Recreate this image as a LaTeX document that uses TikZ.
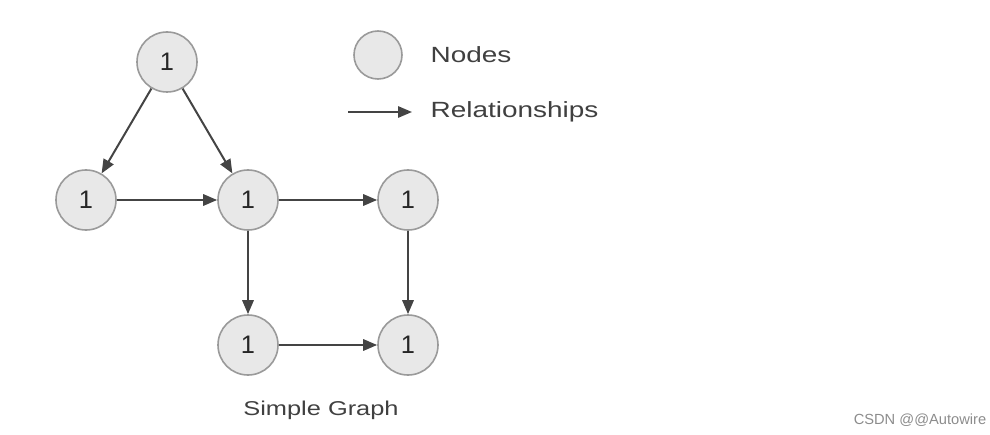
\documentclass[tikz,border=0pt]{standalone}
\usepackage{fontspec}
\setmainfont{Liberation Sans}
\newfontfamily\widefont[FakeStretch=1.27]{Liberation Sans}
\usepackage{tikz}
\definecolor{node-fill}{HTML}{E8E8E8}
\definecolor{node-line}{HTML}{9A9A9A}
\definecolor{edge-line}{HTML}{444444}
\usetikzlibrary{arrows.meta}
\tikzset{
  entity/.style={
    circle, draw=node-line, fill=node-fill,
    line width=1.2pt, minimum size=45pt, inner sep=0pt,
    font=\fontsize{19}{19}\selectfont, text=black!85
  },
  relation/.style={
    draw, -{Triangle[length=10.5pt, width=8.5pt]}, color=edge-line, line width=1.5pt
  },
  caption/.style={
    font=\widefont\fontsize{16.5}{16.5}\selectfont, text=black!75
  }
}

\begin{document}
\begin{tikzpicture}[x=0.75pt, y=-0.75pt]
        \useasboundingbox (0,0) rectangle (990,435);

        \node[entity] (top) at (167,62) {1};
        \node[entity] (left) at (86,200) {1};
        \node[entity] (mid) at (248,200) {1};
        \node[entity] (right) at (408,200) {1};
        \node[entity] (low) at (248,345) {1};
        \node[entity] (lowright) at (408,345) {1};

        \draw[relation] (top) -- (left);
        \draw[relation] (top) -- (mid);
        \draw[relation] (left) -- (mid);
        \draw[relation] (mid) -- (right);
        \draw[relation] (mid) -- (low);
        \draw[relation] (right) -- (lowright);
        \draw[relation] (low) -- (lowright);

        % legend
        \node[entity, minimum size=36pt] (keynode) at (378,55) {};
        \node[caption, anchor=west] (keytext) at (426,55) {Nodes};
        \coordinate (keystart) at (348,112);
        \coordinate (keyend) at (412,112);
        \draw[relation] (keystart) -- (keyend);
        \node[caption, anchor=west] (reltext) at (426,112) {Relationships};

        \node[caption, font=\widefont\fontsize{15}{15}\selectfont] (title) at (321,410) {Simple Graph};
        \node[font=\fontsize{11}{11}\selectfont, text=black!45] (mark) at (920,420) {CSDN @@Autowire};
      \end{tikzpicture}
\end{document}
